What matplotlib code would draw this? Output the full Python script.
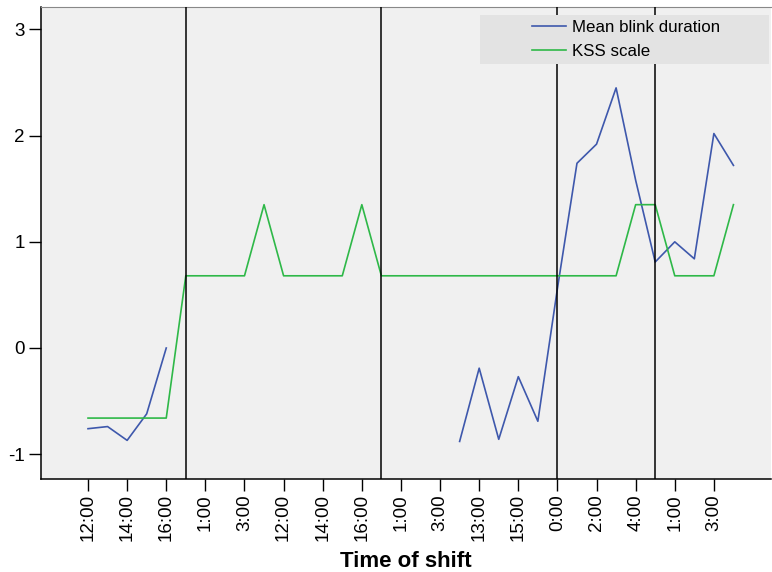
import matplotlib.pyplot as plt
import matplotlib.patches as mpatches
import numpy as np

plt.rcParams['font.family'] = ['Liberation Sans', 'DejaVu Sans']
plt.rcParams['axes.unicode_minus'] = False

# 34 measurement points, every second one labelled
tick_labels = ["12:00", "14:00", "16:00", "1:00", "3:00", "12:00", "14:00", "16:00",
               "1:00", "3:00", "13:00", "15:00", "0:00", "2:00", "4:00", "1:00", "3:00"]

nan = np.nan
blink = [-0.76, -0.74, -0.87, -0.62, 0.00,
         nan, nan, nan, nan, nan, nan, nan, nan, nan, nan, nan, nan, nan, nan,
         -0.88, -0.19, -0.86, -0.27, -0.69, 0.56, 1.74, 1.92, 2.45, 1.58,
         0.81, 1.00, 0.84, 2.02, 1.72]
kss = [-0.66, -0.66, -0.66, -0.66, -0.66,
       0.68, 0.68, 0.68, 0.68, 1.35, 0.68, 0.68, 0.68, 0.68, 1.35,
       0.68, 0.68, 0.68, 0.68, 0.68, 0.68, 0.68, 0.68, 0.68, 0.68, 0.68, 0.68, 0.68,
       1.35, 1.35, 0.68, 0.68, 0.68, 1.35]
shift_breaks = [5, 15, 24, 29]

x = np.arange(len(kss))

fig = plt.figure(figsize=(7.72, 5.72), dpi=100)
ax = fig.add_axes([0.0527, 0.162, 0.9460, 0.826])
ax.set_facecolor("#f0f0f0")

ax.plot(x, blink, color="#3e58ac", linewidth=1.2, label="Mean blink duration", zorder=3)
ax.plot(x, kss, color="#2eb848", linewidth=1.2, label="KSS scale", zorder=3)
for b in shift_breaks:
    ax.axvline(b, color="black", linewidth=1.1, zorder=4)

ax.set_xlim(-2.42, 34.92)
ax.set_ylim(-1.237, 3.213)
ax.set_xticks(x[::2])
ax.set_xticklabels(tick_labels, rotation=90)
ax.set_yticks([-1, 0, 1, 2, 3])
ax.tick_params(axis="both", labelsize=13.5, length=8.5, width=1, color="black")
ax.tick_params(axis="x", pad=2)
ax.tick_params(axis="y", pad=3)
ax.set_xlabel("Time of shift", fontsize=16, fontweight="bold", labelpad=7)

ax.spines["right"].set_visible(False)
ax.spines["top"].set_color("#888888")
ax.spines["left"].set_linewidth(1.1)
ax.spines["bottom"].set_linewidth(1.1)

# legend panel
ax.add_patch(mpatches.Rectangle((0.6015, 0.8788), 0.3958, 0.1036, transform=ax.transAxes,
                                facecolor="#e3e3e3", edgecolor="none", zorder=5))
leg = ax.legend(loc="center", bbox_to_anchor=(0.8014, 0.9306), frameon=False, fontsize=12.2,
                handlelength=2.0, handletextpad=0.35, labelspacing=0.5, borderpad=0)
leg.set_zorder(6)

plt.savefig("out.png", dpi=100)
